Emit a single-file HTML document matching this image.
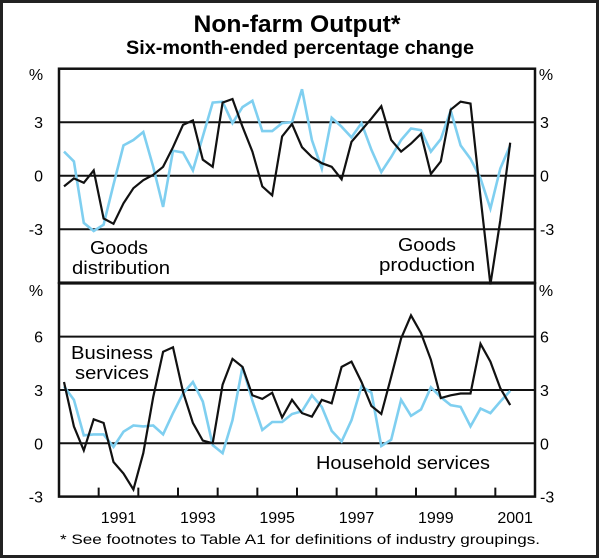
<!DOCTYPE html>
<html><head><meta charset="utf-8"><style>
html,body{margin:0;padding:0;background:#fff}
svg{display:block;font-family:"Liberation Sans",Arial,sans-serif}
</style></head><body>
<svg id="chart" width="600" height="559" viewBox="0 0 600 559">
<rect x="1.5" y="1.5" width="596" height="555" fill="#fff" stroke="#222" stroke-width="3"/>
<text x="297" y="32" text-anchor="middle" font-size="24" font-weight="bold" textLength="207" lengthAdjust="spacingAndGlyphs">Non-farm Output*</text>
<text x="300" y="54" text-anchor="middle" font-size="19" font-weight="bold" textLength="348" lengthAdjust="spacingAndGlyphs">Six-month-ended percentage change</text>
<g id="grid"></g>
<g id="series"></g>
<g id="labels"></g>
<text x="36" y="80" text-anchor="middle" font-size="16">%</text>
<text x="546" y="80" text-anchor="middle" font-size="16">%</text>
<text x="36" y="296" text-anchor="middle" font-size="16">%</text>
<text x="546" y="296" text-anchor="middle" font-size="16">%</text>
<text x="119" y="254" text-anchor="middle" font-size="18" textLength="58" lengthAdjust="spacingAndGlyphs">Goods</text>
<text x="121" y="274" text-anchor="middle" font-size="18" textLength="98" lengthAdjust="spacingAndGlyphs">distribution</text>
<text x="427" y="251" text-anchor="middle" font-size="18" textLength="58" lengthAdjust="spacingAndGlyphs">Goods</text>
<text x="427" y="271" text-anchor="middle" font-size="18" textLength="96" lengthAdjust="spacingAndGlyphs">production</text>
<text x="112" y="359" text-anchor="middle" font-size="18" textLength="82" lengthAdjust="spacingAndGlyphs">Business</text>
<text x="112" y="379" text-anchor="middle" font-size="18" textLength="74" lengthAdjust="spacingAndGlyphs">services</text>
<text x="403" y="469" text-anchor="middle" font-size="18" textLength="174" lengthAdjust="spacingAndGlyphs">Household services</text>
<text x="300" y="544" text-anchor="middle" font-size="14" textLength="480" lengthAdjust="spacingAndGlyphs">*   See footnotes to Table A1 for definitions of industry groupings.</text>
</svg>
<script>
const goodsProduction = [-0.6,-0.15,-0.4,0.3,-2.4,-2.7,-1.55,-0.7,-0.25,0.05,0.5,1.6,2.85,3.1,0.9,0.5,4.1,4.3,2.75,1.35,-0.6,-1.1,2.2,2.9,1.6,1.05,0.7,0.5,-0.2,1.9,2.55,3.2,3.9,2.0,1.35,1.8,2.35,0.1,0.8,3.7,4.15,4.05,-1.2,-6.1,-2.5,1.85];
const goodsDistribution = [1.35,0.8,-2.65,-3.1,-2.75,-0.5,1.7,2.0,2.45,0.5,-1.75,1.4,1.3,0.3,2.2,4.1,4.15,2.95,3.85,4.2,2.5,2.5,2.95,3.0,4.85,2.0,0.4,3.25,2.75,2.15,2.95,1.45,0.2,1.05,2.0,2.65,2.55,1.35,2.05,3.65,1.7,0.95,-0.15,-1.85,0.4,1.7];
const businessServices = [3.45,0.95,-0.4,1.35,1.15,-1.05,-1.7,-2.6,-0.55,2.6,5.15,5.4,2.9,1.15,0.15,0,3.3,4.75,4.3,2.7,2.5,2.85,1.45,2.45,1.7,1.5,2.45,2.25,4.3,4.6,3.45,2.1,1.65,3.75,5.9,7.2,6.2,4.7,2.55,2.7,2.8,2.8,5.6,4.6,3.1,2.15];
const householdServices = [3.2,2.45,0.45,0.5,0.5,-0.2,0.65,1.0,0.95,1.0,0.5,1.7,2.8,3.45,2.35,-0.1,-0.55,1.3,4.3,2.4,0.75,1.2,1.2,1.65,1.8,2.7,2.05,0.7,0.1,1.3,3.2,2.85,-0.15,0.2,2.45,1.55,1.9,3.15,2.6,2.15,2.05,0.95,1.95,1.7,2.35,2.95];
const topTicks = [3,0,-3];
const bottomTicks = [6,3,0,-3];
const yearLabels = [1991,1993,1995,1997,1999,2001];
const startYear = 1990.125;

const NS="http://www.w3.org/2000/svg";
const L=59,R=535;
function x(t){return L+(t-1990)*(R-L)/12;}
function yTop(v){return 175.7-v*17.83;}
function yBot(v){return 443.3-v*17.77;}
function mk(tag,attrs,parent){const e=document.createElementNS(NS,tag);for(const k in attrs)e.setAttribute(k,attrs[k]);parent.appendChild(e);return e;}
const grid=document.getElementById('grid'),ser=document.getElementById('series'),lab=document.getElementById('labels');

let f=mk('rect',{x:L,y:yTop(6),width:R-L,height:yTop(-6)-yTop(6),fill:'none',stroke:'#111','stroke-width':2.5},grid);


f=mk('rect',{x:L,y:yBot(9),width:R-L,height:yBot(-3)-yBot(9),fill:'none',stroke:'#111','stroke-width':2.5},grid);



topTicks.forEach(v=>{
  const g=mk('line',{x1:L,x2:R,y1:yTop(v),y2:yTop(v),stroke:'#111','stroke-width':2},grid);
  
  
  const a=mk('text',{x:43,y:yTop(v)+6,'text-anchor':'end','font-size':16},lab);a.textContent=v;
  
  
  const b=mk('text',{x:540,y:yTop(v)+6,'font-size':16},lab);b.textContent=v;
  
  
});
bottomTicks.forEach(v=>{
  if(v>-3){const g=mk('line',{x1:L,x2:R,y1:yBot(v),y2:yBot(v),stroke:'#111','stroke-width':2},grid);
  
  }
  const a=mk('text',{x:43,y:yBot(v)+6,'text-anchor':'end','font-size':16},lab);a.textContent=v;
  
  
  const b=mk('text',{x:540,y:yBot(v)+6,'font-size':16},lab);b.textContent=v;
  
  
});
for(let yr=1991;yr<=2001;yr++){
  const t=mk('line',{x1:x(yr),x2:x(yr),y1:yBot(-3),y2:yBot(-3)-9,stroke:'#111','stroke-width':2},grid);
  
  
}
yearLabels.forEach(yr=>{
  const t=mk('text',{x:x(yr+0.5),y:523,'text-anchor':'middle','font-size':16},lab);t.textContent=yr;
  
  
});
function line(data,yf,color,w,name){
  const pts=data.map((v,i)=>x(startYear+i*0.25).toFixed(1)+','+yf(v).toFixed(1)).join(' ');
  const p=mk('polyline',{points:pts,fill:'none',stroke:color,'stroke-width':w,'stroke-linejoin':'miter'},ser);
  
  
}
line(goodsDistribution,yTop,'#7fcff0',2.6,'goods-distribution-line');
line(goodsProduction,yTop,'#111',2.2,'goods-production-line');
line(householdServices,yBot,'#7fcff0',2.6,'household-services-line');
line(businessServices,yBot,'#111',2.2,'business-services-line');
</script>
</body></html>
